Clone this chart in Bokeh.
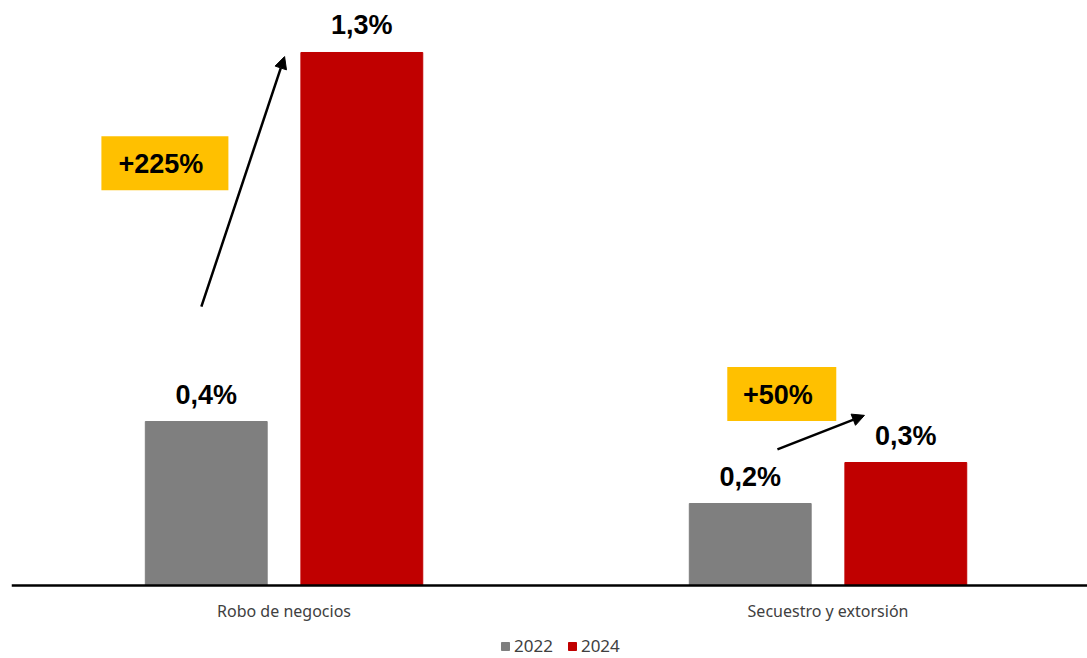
import numpy as np
from bokeh.plotting import figure
from bokeh.models import (ColumnDataSource, Range1d, Arrow, NormalHead, Legend,
                          LegendItem, FixedTicker)
from bokeh.core.properties import value
from bokeh.embed import file_html
from bokeh.resources import INLINE

# ---- data ----
categories = ["Robo de negocios", "Secuestro y extorsión"]
years = ["2022", "2024"]
values_2022 = [0.4, 0.2]
values_2024 = [1.3, 0.3]
change_labels = ["+225%", "+50%"]

# annotation positions (category index units / value units)
arrow_x0 = [-0.152, 0.907]
arrow_y0 = [0.68, 0.332]
arrow_x1 = [0.001, 1.067]
arrow_y1 = [1.29, 0.415]
box_x = [-0.219, 0.915]
box_y = [1.030, 0.467]

GRAY = "#7f7f7f"
RED = "#c00000"
YELLOW = "#ffc000"

def fmt(v):
    return f"{v:.1f}".replace(".", ",") + "%"

idx = np.arange(len(categories))
offset = 0.143
bar_w = 0.224

src22 = ColumnDataSource(dict(x=idx - offset, top=values_2022,
                              label=[fmt(v) for v in values_2022]))
src24 = ColumnDataSource(dict(x=idx + offset, top=values_2024,
                              label=[fmt(v) for v in values_2024]))

p = figure(frame_width=1076, frame_height=658,
           x_range=Range1d(-0.501, 1.477), y_range=Range1d(-0.178, 1.4268),
           output_backend="svg", toolbar_location=None,
           min_border_left=11, min_border_right=0, min_border_top=0,
           min_border_bottom=0)
p.outline_line_color = None
p.grid.visible = False
p.yaxis.visible = False
p.background_fill_color = "white"
p.border_fill_color = "white"

r22 = p.vbar(x="x", top="top", width=bar_w, source=src22, color=GRAY)
r24 = p.vbar(x="x", top="top", width=bar_w, source=src24, color=RED)

lab_font = value("Liberation Sans")
for s in (src22, src24):
    p.text(x="x", y="top", text="label", source=s, text_font=lab_font,
           text_font_size="27px", text_font_style="bold", text_color="black",
           text_align="center", text_baseline="alphabetic", y_offset=-27)

# change boxes
box_src = ColumnDataSource(dict(x=box_x, y=box_y, w=[127, 109], label=change_labels))
p.rect(x="x", y="y", width="w", height=54, width_units="screen",
       height_units="screen", source=box_src, fill_color=YELLOW, line_color=None)
p.text(x="x", y="y", text="label", source=box_src, text_font=lab_font,
       text_font_size="27px", text_font_style="bold", text_color="black",
       text_align="center", text_baseline="middle", x_offset=-4, y_offset=1)

arr_src = ColumnDataSource(dict(x0=arrow_x0, y0=arrow_y0, x1=arrow_x1, y1=arrow_y1))
p.add_layout(Arrow(end=NormalHead(size=12, fill_color="black", line_color="black"),
                   x_start="x0", y_start="y0", x_end="x1", y_end="y1",
                   source=arr_src, line_color="black", line_width=2.5))

ax = p.xaxis[0]
ax.fixed_location = 0
ax.ticker = FixedTicker(ticks=list(idx))
ax.major_label_overrides = {int(i): c for i, c in zip(idx, categories)}
ax.major_tick_line_color = None
ax.minor_tick_line_color = None
ax.axis_line_color = "black"
ax.axis_line_width = 2.5
ax.major_label_text_font = "Noto Sans"
ax.major_label_text_font_size = "16px"
ax.major_label_text_color = "#404040"
ax.major_label_standoff = 8

legend = Legend(items=[LegendItem(label=years[0], renderers=[r22]),
                       LegendItem(label=years[1], renderers=[r24])],
                location=(489, 1), orientation="horizontal",
                glyph_width=10, glyph_height=10, label_standoff=4, spacing=14,
                label_height=14,
                padding=0, margin=0, border_line_color=None,
                background_fill_alpha=0,
                label_text_font="Noto Sans", label_text_font_size="17px",
                label_text_color="#404040")
p.add_layout(legend, "center")

open("out.html", "w").write(file_html(p, INLINE))
